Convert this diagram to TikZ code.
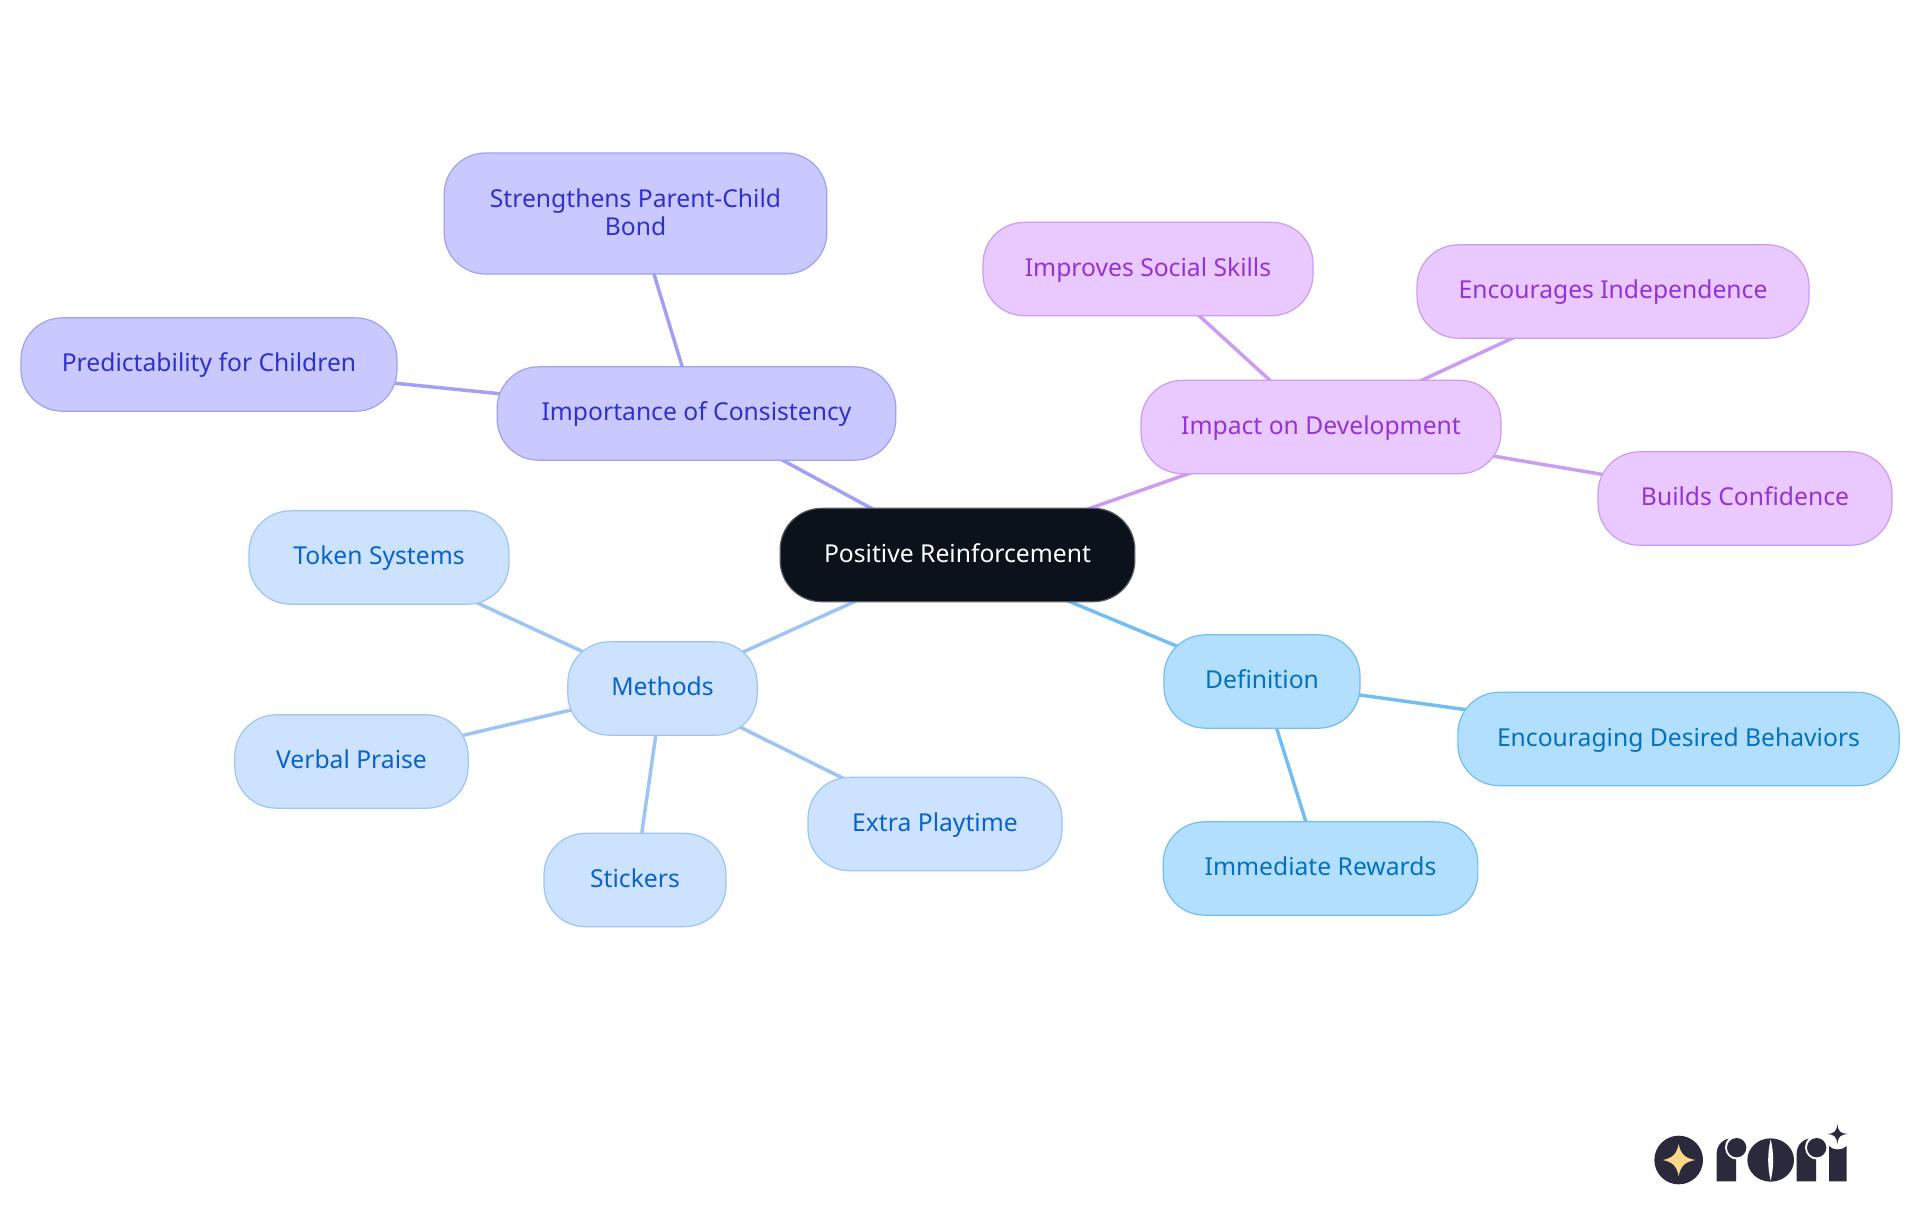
\documentclass[tikz,border=0pt]{standalone}
\usepackage{fontspec}
\setmainfont{Noto Sans}
\usetikzlibrary{backgrounds}
\definecolor{rootfill}{HTML}{0B121B}
\definecolor{logoink}{HTML}{2A2A3C}
\definecolor{logostar}{HTML}{FDD88A}
\tikzset{
  mapnode/.style={rectangle,rounded corners=31pt,inner sep=0pt,minimum height=70pt,text height=14pt,text depth=3.5pt,align=center,line width=0.9pt,font=\fontsize{18.5}{21}\selectfont},
  rootnode/.style={mapnode,fill=rootfill,draw=rootfill!70!white,text=white},
  indigonode/.style={mapnode,fill=indigofill,draw=indigoline,text=indigotext},
  purplenode/.style={mapnode,fill=purplefill,draw=purpleline,text=purpletext},
  bluenode/.style={mapnode,fill=bluefill,draw=blueline,text=bluetext},
  skynode/.style={mapnode,fill=skyfill,draw=skyline,text=skytext},
  mapedge/.style={line width=2.6pt},
}
\definecolor{indigofill}{HTML}{C9C9FF}
\definecolor{indigoline}{HTML}{A0A0F5}
\definecolor{indigotext}{HTML}{3030CC}
\definecolor{purplefill}{HTML}{E9C9FF}
\definecolor{purpleline}{HTML}{CB9CF2}
\definecolor{purpletext}{HTML}{9333D6}
\definecolor{bluefill}{HTML}{CCE2FF}
\definecolor{blueline}{HTML}{9CC4F5}
\definecolor{bluetext}{HTML}{0A62CC}
\definecolor{skyfill}{HTML}{B3DFFF}
\definecolor{skyline}{HTML}{72BDF2}
\definecolor{skytext}{HTML}{0470C0}
\begin{document}
\begin{tikzpicture}[x=0.75pt,y=-0.75pt]
  \useasboundingbox (0,0) rectangle (1920,1215);
  \node[rootnode,minimum width=266pt] (Root) at (957.5,555) {Positive Reinforcement};
  \node[indigonode,minimum width=287pt,minimum height=90.75pt,text height=36pt] (Bond) at (635.5,213.5) {Strengthens Parent-Child\\Bond};
  \foreach \name/\kind/\x/\y/\w/\label in {
    Consistency/indigonode/696.5/413.5/299/Importance of Consistency,
    Predictability/indigonode/209/364.5/282/Predictability for Children,
    Impact/purplenode/1321/427/270/Impact on Development,
    Social/purplenode/1148/269/247.5/Improves Social Skills,
    Independence/purplenode/1613/291.5/294/Encourages Independence,
    Confidence/purplenode/1745/498.5/220.5/Builds Confidence,
    Definition/skynode/1262/681.5/147/Definition,
    Desired/skynode/1678.5/739/331/Encouraging Desired Behaviors,
    Rewards/skynode/1320.5/868.5/236/Immediate Rewards,
    Methods/bluenode/662.5/688.5/142/Methods,
    Token/bluenode/379/557.5/195/Token Systems,
    Praise/bluenode/351.5/761.5/175/Verbal Praise,
    Stickers/bluenode/635/880/136.5/Stickers,
    Playtime/bluenode/935/824/190.5/Extra Playtime}{
    \node[\kind,minimum width=\w pt] (\name) at (\x,\y) {\label};
  }
  \begin{scope}[on background layer]
    \foreach \from/\to/\col in {
      Root/Consistency/indigoline,Consistency/Bond/indigoline,Consistency/Predictability/indigoline,
      Root/Impact/purpleline,Impact/Social/purpleline,Impact/Independence/purpleline,Impact/Confidence/purpleline,
      Root/Definition/skyline,Definition/Desired/skyline,Definition/Rewards/skyline,
      Root/Methods/blueline,Methods/Token/blueline,Methods/Praise/blueline,Methods/Stickers/blueline,Methods/Playtime/blueline}
      \draw[mapedge,draw=\col] (\from.center) -- (\to.center);
  \end{scope}
  % logo
  \begin{scope}[shift={(1630,1110)},x=0.25pt,y=-0.25pt]
    \fill[logoink] (146,150) circle (73);
    \fill[logostar] (146,102) .. controls (152,132) and (164,144) .. (196,150) .. controls (164,156) and (152,168) .. (146,198) .. controls (140,168) and (128,156) .. (98,150) .. controls (128,144) and (140,132) .. (146,102) -- cycle;
    \foreach \dx in {0,240}{
      \fill[logoink] (260+\dx,214) -- (260+\dx,130) arc[start angle=180,end angle=270,radius=45] -- (318+\dx,85) -- (318+\dx,214) -- cycle;
      \fill[white] (322+\dx,112) circle (37);
      \fill[logoink] (320+\dx,113) circle (29);
    }
    \fill[logoink] (422,150) ellipse (70 and 65);
    \fill[white] (422,88) .. controls (412,130) and (412,170) .. (422,212) .. controls (432,170) and (432,130) .. (422,88) -- cycle;
    \fill[logoink] (597,214) -- (597,108) .. controls (610,122) and (636,122) .. (650,108) -- (650,214) -- cycle;
    \fill[logoink] (622,42) .. controls (625,65) and (630,70) .. (654,72) .. controls (630,74) and (625,79) .. (622,102) .. controls (619,79) and (614,74) .. (591,72) .. controls (614,70) and (619,65) .. (622,42) -- cycle;
  \end{scope}
\end{tikzpicture}
\end{document}
